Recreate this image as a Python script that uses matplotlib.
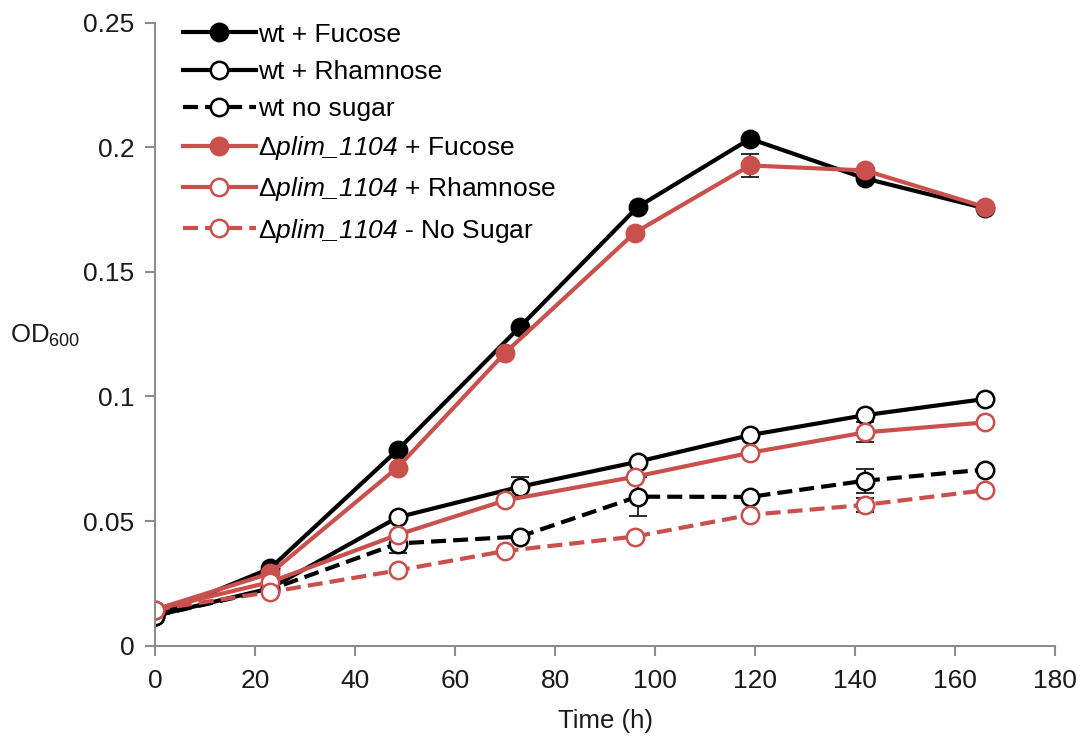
import matplotlib.pyplot as plt
import numpy as np

plt.rcParams['font.family'] = ['Liberation Sans', 'DejaVu Sans']
plt.rcParams['mathtext.fontset'] = 'custom'
plt.rcParams['mathtext.rm'] = 'Liberation Sans'
plt.rcParams['mathtext.sf'] = 'Liberation Sans:italic'

# time points (h)
t_wt = [0, 23, 48.5, 73, 96.5, 119, 142, 166]
t_mut = [0, 23, 48.5, 70, 96, 119, 142, 166]

# OD600 values
wt_fuc = [0.012, 0.031, 0.0785, 0.128, 0.176, 0.2034, 0.1875, 0.1755]
wt_rha = [0.012, 0.023, 0.0515, 0.0638, 0.0738, 0.0845, 0.0925, 0.099]
wt_none = [0.012, 0.0225, 0.041, 0.0438, 0.0598, 0.0597, 0.0662, 0.0707]
mut_fuc = [0.0145, 0.029, 0.0715, 0.1175, 0.1658, 0.1927, 0.1907, 0.176]
mut_rha = [0.0145, 0.0255, 0.0445, 0.0583, 0.0678, 0.0774, 0.0856, 0.0896]
mut_none = [0.0145, 0.0215, 0.0302, 0.038, 0.0438, 0.0525, 0.0565, 0.0624]

# error bars (sd)
wt_fuc_err = [0, 0, 0, 0, 0, 0, 0, 0]
wt_rha_err = [0, 0, 0, 0.004, 0, 0, 0, 0]
wt_none_err = [0, 0, 0.0037, 0, 0.0077, 0, 0.0048, 0]
mut_fuc_err = [0, 0, 0, 0, 0, 0.0047, 0, 0]
mut_rha_err = [0, 0, 0, 0, 0, 0, 0.004, 0]
mut_none_err = [0, 0, 0, 0, 0, 0, 0.0027, 0]

red = '#C9504D'
mut = r'Δ$\mathsf{plim\_1104}$'

series = [
    (t_wt, wt_fuc, wt_fuc_err, 'k', 'k', '-', 'wt + Fucose'),
    (t_wt, wt_rha, wt_rha_err, 'k', 'white', '-', 'wt + Rhamnose'),
    (t_wt, wt_none, wt_none_err, 'k', 'white', '--', 'wt no sugar'),
    (t_mut, mut_fuc, mut_fuc_err, red, red, '-', mut + ' + Fucose'),
    (t_mut, mut_rha, mut_rha_err, red, 'white', '-', mut + ' + Rhamnose'),
    (t_mut, mut_none, mut_none_err, red, 'white', '--', mut + ' - No Sugar'),
]

fig = plt.figure(figsize=(10.85, 7.36), dpi=100)
ax = fig.add_axes([0.1429, 0.1227, 0.8295, 0.8465])

for t, y, e, c, fc, ls, lab in series:
    ax.errorbar(t, y, yerr=e, fmt='none', ecolor='#1a1a1a', elinewidth=1.3,
                capsize=6.5, capthick=1.3, zorder=1)
    ax.plot(t, y, ls, color=c, lw=3, marker='o', ms=12.5, mfc=fc, mec=c,
            mew=1.8, label=lab, dashes=(3.6, 1.7) if ls == '--' else (None, None))

ax.set_xlim(0, 180)
ax.set_ylim(0, 0.25)
ax.set_xticks(np.arange(0, 181, 20))
ax.set_yticks([0, 0.05, 0.1, 0.15, 0.2, 0.25])
ax.set_yticklabels(['0', '0.05', '0.1', '0.15', '0.2', '0.25'])
ax.tick_params(labelsize=19, direction='out', length=7, width=1.5,
               color='#8c8c8c', labelcolor='#1a1a1a')
ax.tick_params(axis='x', pad=9.5)
ax.tick_params(axis='y', pad=8)
for s in ['top', 'right']:
    ax.spines[s].set_visible(False)
for s in ['left', 'bottom']:
    ax.spines[s].set_color('#8c8c8c')
    ax.spines[s].set_linewidth(1.5)

ax.set_xlabel('Time (h)', fontsize=18.5, labelpad=12, color='#1a1a1a')
fig.text(10 / 1085, 1 - 343 / 736, 'OD$_{600}$', fontsize=18.5,
         ha='left', va='baseline', color='#1a1a1a')

ax.legend(loc='upper left', bbox_to_anchor=(0.031, 1.0), frameon=False,
          fontsize=19, handlelength=2.75, handletextpad=0.08, labelspacing=0.5,
          borderaxespad=0, borderpad=0)

fig.savefig('out.png', dpi=100)
